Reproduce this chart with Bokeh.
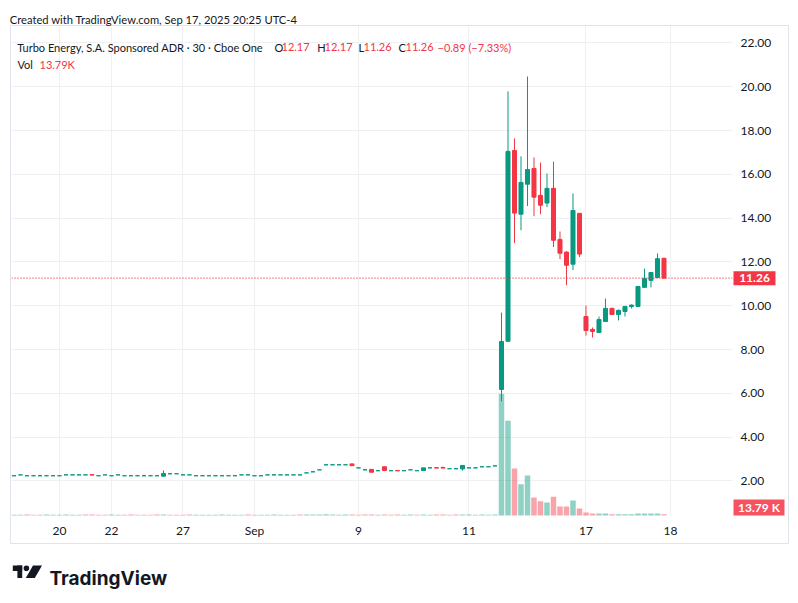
from bokeh.plotting import figure
from bokeh.models import (Range1d, FixedTicker, NumeralTickFormatter, Span, Label,
                          ColumnDataSource)
from bokeh.core.properties import value
from bokeh.embed import file_html
from bokeh.resources import INLINE

# ---------------- data (30-minute bars, index = bar number) ----------------
opens = [
    2.24, 2.28, 2.24, 2.24, 2.24, 2.24, 2.24, 2.24, 2.28, 2.28,
    2.28, 2.28, 2.29, 2.24, 2.28, 2.24, 2.28, 2.24, 2.24, 2.24,
    2.24, 2.24, 2.24, 2.22, 2.33, 2.33, 2.28, 2.28, 2.24, 2.24,
    2.24, 2.24, 2.24, 2.24, 2.24, 2.28, 2.28, 2.24, 2.24, 2.28,
    2.28, 2.28, 2.28, 2.28, 2.28, 2.37, 2.42, 2.51, 2.74, 2.74,
    2.74, 2.74, 2.78, 2.60, 2.51, 2.53, 2.47, 2.65, 2.47, 2.48,
    2.47, 2.51, 2.47, 2.48, 2.60, 2.61, 2.61, 2.56, 2.56, 2.55,
    2.60, 2.60, 2.65, 2.65, 2.69, 6.18, 8.38, 17.09, 14.18, 15.55,
    16.27, 15.04, 14.69, 15.36, 13.03, 12.45, 11.90, 14.22, 9.51, 8.92,
    8.78, 9.28, 9.88, 9.60, 9.74, 9.97, 9.97, 10.84, 11.16, 11.29,
    12.17]
highs = [
    2.24, 2.28, 2.24, 2.24, 2.24, 2.24, 2.24, 2.24, 2.28, 2.28,
    2.28, 2.28, 2.29, 2.24, 2.28, 2.24, 2.28, 2.24, 2.24, 2.24,
    2.24, 2.24, 2.24, 2.48, 2.33, 2.33, 2.28, 2.28, 2.24, 2.24,
    2.24, 2.24, 2.24, 2.24, 2.24, 2.28, 2.28, 2.24, 2.24, 2.28,
    2.28, 2.28, 2.28, 2.28, 2.28, 2.37, 2.42, 2.51, 2.74, 2.74,
    2.74, 2.74, 2.78, 2.60, 2.51, 2.53, 2.47, 2.65, 2.47, 2.48,
    2.47, 2.51, 2.47, 2.60, 2.60, 2.61, 2.66, 2.56, 2.56, 2.71,
    2.60, 2.60, 2.65, 2.65, 2.69, 9.69, 19.79, 17.64, 16.82, 20.47,
    16.77, 16.54, 16.04, 16.58, 13.39, 12.49, 15.13, 14.22, 10.01, 9.01,
    9.51, 10.33, 9.92, 9.83, 9.97, 10.06, 10.88, 11.70, 11.52, 12.39,
    12.17]
lows = [
    2.24, 2.28, 2.24, 2.24, 2.24, 2.24, 2.24, 2.24, 2.28, 2.28,
    2.28, 2.28, 2.27, 2.24, 2.28, 2.24, 2.28, 2.24, 2.24, 2.24,
    2.24, 2.24, 2.24, 2.22, 2.33, 2.33, 2.28, 2.28, 2.24, 2.24,
    2.24, 2.24, 2.24, 2.24, 2.24, 2.28, 2.28, 2.24, 2.24, 2.28,
    2.28, 2.28, 2.28, 2.28, 2.28, 2.37, 2.42, 2.51, 2.74, 2.74,
    2.74, 2.74, 2.70, 2.60, 2.51, 2.40, 2.47, 2.45, 2.47, 2.46,
    2.47, 2.51, 2.47, 2.48, 2.60, 2.59, 2.59, 2.56, 2.56, 2.48,
    2.60, 2.60, 2.65, 2.65, 2.69, 5.64, 8.37, 12.86, 13.45, 14.55,
    14.09, 14.18, 14.50, 12.68, 12.13, 10.94, 11.63, 12.22, 8.64, 8.55,
    8.78, 9.28, 9.60, 9.33, 9.51, 9.88, 9.97, 10.84, 10.84, 11.29,
    11.26]
closes = [
    2.24, 2.28, 2.24, 2.24, 2.24, 2.24, 2.24, 2.24, 2.28, 2.28,
    2.28, 2.28, 2.27, 2.24, 2.28, 2.24, 2.28, 2.24, 2.24, 2.24,
    2.24, 2.24, 2.24, 2.34, 2.33, 2.33, 2.28, 2.28, 2.24, 2.24,
    2.24, 2.24, 2.24, 2.24, 2.24, 2.28, 2.28, 2.24, 2.24, 2.28,
    2.28, 2.28, 2.28, 2.28, 2.28, 2.37, 2.42, 2.51, 2.74, 2.74,
    2.74, 2.74, 2.70, 2.60, 2.51, 2.40, 2.47, 2.48, 2.47, 2.46,
    2.47, 2.51, 2.47, 2.60, 2.60, 2.59, 2.59, 2.56, 2.56, 2.71,
    2.60, 2.60, 2.65, 2.65, 2.69, 8.37, 17.05, 14.23, 15.63, 16.22,
    14.96, 14.59, 15.36, 12.99, 12.40, 11.85, 14.35, 12.36, 8.87, 8.83,
    9.37, 9.88, 9.60, 9.79, 9.97, 10.03, 10.88, 11.25, 11.52, 12.15,
    11.26]
volumes = [
    9000, 8000, 10000, 9000, 8500, 9500, 8000, 9000, 10000, 8500, 9000, 9500, 10000, 8000, 9000,
    9500, 8500, 9000, 10000, 9000, 8500, 9000, 9500, 11000, 9000, 8500, 9000, 9500, 8000, 9000,
    8500, 9000, 9500, 9000, 8500, 9000, 10000, 9000, 8500, 9000, 9500, 9000, 8500, 9000, 9500,
    10000, 11000, 10500, 12000, 9500, 9000, 9500, 10000, 9000, 9500, 10500, 9000, 11000, 9000, 9500,
    9000, 9500, 9000, 10500, 9000, 9500, 10000, 9000, 9500, 11000, 9500, 9000, 9500, 9000, 10000,
    1290000, 1005000, 498000, 330000, 425000, 190000, 150000, 138000, 200000, 95000,
    95000, 160000, 75000, 32000, 22000, 22000, 22000, 12000, 12000, 12000,
    12000, 20000, 20000, 20000, 20000, 13790]
vol_up = [
    1, 1, 0, 0, 0, 1, 1, 1, 1, 1, 1, 0, 0, 0, 0, 1, 1, 0, 0, 0, 0, 0, 0, 1, 0, 0,
    0, 0, 1, 1, 1, 1, 1, 1, 1, 1, 0, 0, 1, 1, 1, 1, 1, 0, 0, 1, 1, 1, 1, 1, 1,
    1, 0, 0, 0, 0, 1, 0, 0, 0, 1, 1, 0, 1, 1, 0, 0, 0, 0, 1, 1, 1, 1, 1, 1,
    1, 1, 0, 1, 1, 0, 0, 1, 0, 0, 0, 1, 0, 0, 0, 1, 1, 0, 1, 1, 1, 1, 1, 1, 1, 0]

tick_index = [7, 15, 26, 37, 53, 70, 88, 101]
tick_labels = ["20", "22", "27", "Sep", "9", "11", "17", "18"]
price_ticks = [2, 4, 6, 8, 10, 12, 14, 16, 18, 20, 22]

title_text = "Turbo Energy, S.A. Sponsored ADR \u00b7 30 \u00b7 Cboe One"
created_text = "Created with TradingView.com, Sep 17, 2025 20:25 UTC-4"
brand_text = "TradingView"

# ---------------- styling ----------------
UP = "#089981"
DOWN = "#f23645"
TXT = "#131722"
FONT = "Lato"

X0, X1 = -0.385, 110.54
Y0, Y1 = 0.379, 22.75
FL, FT, FR, FB = 11, 26, 732, 516          # frame edges in page pixels


def X(px):  # page pixel -> bar-index coordinate (for decorations outside the frame)
    return X0 + (px - FL) * (X1 - X0) / (FR - FL)


def Y(py):  # page pixel -> price coordinate
    return Y1 - (py - FT) * (Y1 - Y0) / (FB - FT)


n = len(closes)
idx = list(range(n))
col = [UP if c >= o else DOWN for o, c in zip(opens, closes)]
vcol = [UP if u else DOWN for u in vol_up]
src = ColumnDataSource(dict(
    x=idx, o=opens, h=highs, l=lows, c=closes,
    top=[max(o, c) for o, c in zip(opens, closes)],
    bottom=[min(o, c) for o, c in zip(opens, closes)],
    col=col, v=volumes, vcol=vcol))

p = figure(width=798, height=603, output_backend="svg", toolbar_location=None,
           x_range=Range1d(X0, X1), y_range=Range1d(Y0, Y1),
           y_axis_location="right",
           min_border_left=FL, min_border_right=798 - FR, min_border_top=FT,
           min_border_bottom=603 - FB,
           background_fill_color="white", border_fill_color="white",
           outline_line_color=None)
p.extra_y_ranges = {"vol": Range1d(-10600, 5183400)}

p.vbar(x="x", width=0.85, top="v", bottom=0, y_range_name="vol",
       fill_color="vcol", fill_alpha=0.45, line_color=None, source=src)
p.segment(x0="x", x1="x", y0="l", y1="h", line_color="col", line_width=1, source=src)
p.vbar(x="x", width=0.62, top="top", bottom="bottom", fill_color="col",
       line_color="col", line_width=1, source=src)

# last price dotted line
p.add_layout(Span(location=closes[-1], dimension="width", line_color=DOWN,
                  line_width=1.2, line_dash="1 2"))

# axes
p.xaxis.ticker = FixedTicker(ticks=tick_index)
p.xaxis.major_label_overrides = {t: s for t, s in zip(tick_index, tick_labels)}
p.yaxis.ticker = FixedTicker(ticks=price_ticks)
p.yaxis.formatter = NumeralTickFormatter(format="0.00")
for ax in (p.xaxis, p.yaxis):
    ax.axis_line_color = None
    ax.major_tick_line_color = None
    ax.minor_tick_line_color = None
    ax.major_tick_out = 0
    ax.major_tick_in = 0
    ax.minor_tick_out = 0
    ax.major_label_text_font = FONT
    ax.major_label_text_font_size = "12px"
    ax.major_label_text_color = TXT
p.xaxis.major_label_standoff = 6
p.yaxis.major_label_standoff = 8
p.xgrid.grid_line_color = "#eef0f3"
p.ygrid.grid_line_color = "#eef0f3"

# ---------------- header labels inside the frame ----------------
def lab(x, y, text, color=TXT, size="11px"):
    p.add_layout(Label(x=x, y=y, x_units="screen", y_units="screen", text=text,
                       text_color=color, text_font_size=size, text_font=FONT,
                       text_baseline="alphabetic"))


lab(5.7, 469.5, title_text)
chg = closes[-1] - closes[-2]
pct = chg / closes[-2] * 100
parts = [(263, "O", TXT), (270, f"{opens[-1]:.2f}", DOWN),
         (305.7, "H", TXT), (313, f"{highs[-1]:.2f}", DOWN),
         (347, "L", TXT), (352, f"{lows[-1]:.2f}", DOWN),
         (387, "C", TXT), (394, f"{closes[-1]:.2f}", DOWN),
         (426, f"{chg:+.2f} ({pct:+.2f}%)".replace("-", "\u2212"), DOWN)]
for x, t, c in parts:
    lab(x, 469.5, t, color=c)
lab(6, 451.7, "Vol", color=TXT)
lab(28, 451.7, f"{volumes[-1] / 1000:.2f}K", color=DOWN)

# ---------------- decorations outside the frame (overlay level, unclipped) ----------------
# outer box
p.quad(left=[X(10)], right=[X(788)], top=[Y(25)], bottom=[Y(543)],
       fill_alpha=0, line_color="#e0e3eb", line_width=1, level="overlay")

# last price tag on the price axis
half = 7 * (Y1 - Y0) / (FB - FT)
p.quad(left=[X(733)], right=[X(775)], top=[closes[-1] + half], bottom=[closes[-1] - half],
       fill_color=DOWN, line_color=None, level="overlay")
p.text(x=[X(754)], y=[closes[-1]], text=[f"{closes[-1]:.2f}"], text_align="center",
       text_baseline="middle", text_color="white", text_font=value(FONT),
       text_font_size=value("12px"), text_font_style="bold", level="overlay")

# volume tag
p.quad(left=[X(733)], right=[X(784)], top=[Y(499)], bottom=[Y(515)],
       fill_color="#f7525f", line_color=None, level="overlay")
p.text(x=[X(758.5)], y=[Y(507)], text=[f"{volumes[-1] / 1000:.2f} K"], text_align="center",
       text_baseline="middle", text_color="white", text_font=value(FONT),
       text_font_size=value("12px"), text_font_style="bold", level="overlay")

# created-with line
p.text(x=[X(9.3)], y=[Y(19.3)], text=[created_text], text_align="left",
       text_baseline="alphabetic", text_color=TXT, text_font=value(FONT),
       text_font_size=value("11.2px"), level="overlay")

# TradingView logo: "T" as two rectangles, a dot, and a slanted stroke
p.quad(left=[X(12.3), X(16.9)], right=[X(21.7), X(21.7)],
       top=[Y(565), Y(565)], bottom=[Y(570.5), Y(577.5)],
       fill_color=TXT, line_color=None, level="overlay")
p.ellipse(x=[X(25.9)], y=[Y(567.8)], width=[5.6 * (X1 - X0) / (FR - FL)],
          height=[5.6 * (Y1 - Y0) / (FB - FT)], fill_color=TXT, line_color=None,
          level="overlay")
p.patch(x=[X(v) for v in [32.5, 41.5, 34.3, 25.3]],
        y=[Y(v) for v in [565, 565, 577.5, 577.5]],
        fill_color=TXT, line_color=None, level="overlay")
p.text(x=[X(49)], y=[Y(577.5)], text=[brand_text], text_align="left",
       text_baseline="alphabetic", text_color=TXT, text_font=value("Inter"),
       text_font_size=value("19px"), text_font_style="bold", level="overlay")

open("out.html", "w").write(file_html(p, INLINE))
